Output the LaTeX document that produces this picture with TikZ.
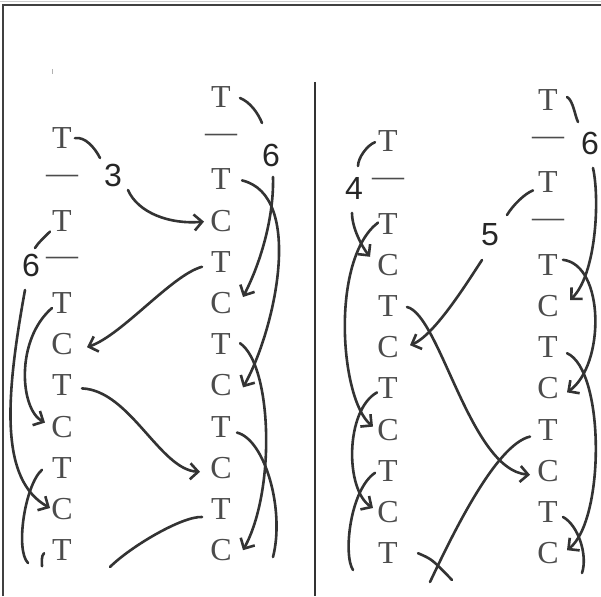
\documentclass[tikz,border=0pt]{standalone}
\usepackage{fontspec}
\setmainfont{Liberation Serif}
\newfontfamily\handfont{Liberation Sans}
\usetikzlibrary{arrows.meta, calc}
\tikzstyle{stroke} = [line width=2.6pt, draw=black!80, line cap=round]
\tikzstyle{arr} = [stroke, -{Straight Barb[length=8pt, width=16pt]}]
\tikzstyle{letter} = [inner sep=1pt, text=black!70, font=\fontsize{32}{32}\selectfont]
\tikzstyle{digit} = [inner sep=1pt, text=black!85, font=\handfont\fontsize{32}{32}\selectfont]

\begin{document}
\begin{tikzpicture}[x=1pt, y=-1pt]
\useasboundingbox (0,0) rectangle (601,596);

% Frame and divider
\draw[black!20] (0,1) -- (601,1);
\draw[line width=2pt, black!75] (3,596) -- (3,5) -- (601,5);
\draw[line width=2.5pt, black!80] (315,82) -- (315,596);
\draw[gray!60] (52,69) -- (52,74);

% Letter columns (rows 41.2 apart)
\foreach \r/\t in {1/T, 2/\textemdash, 3/T, 4/\textemdash, 5/T, 6/C, 7/T, 8/C, 9/T, 10/C, 11/T} {
    \node[letter] (a\r) at (62,{97+41.2*\r}) {\t};
}
\foreach \r/\t in {0/T, 1/\textemdash, 2/T, 3/C, 4/T, 5/C, 6/T, 7/C, 8/T, 9/C, 10/T, 11/C} {
    \node[letter] (b\r) at (221,{97+41.2*\r}) {\t};
}
\foreach \r/\t in {1/T, 2/\textemdash, 3/T, 4/C, 5/T, 6/C, 7/T, 8/C, 9/T, 10/C, 11/T} {
    \node[letter] (c\r) at (388,{100+41.2*\r}) {\t};
}
\foreach \r/\t in {0/T, 1/\textemdash, 2/T, 3/\textemdash, 4/T, 5/C, 6/T, 7/C, 8/T, 9/C, 10/T, 11/C} {
    \node[letter] (d\r) at (548,{100+41.2*\r}) {\t};
}

% Handwritten counts
\node[digit] (n3) at (113,175) {3};
\node[digit] (n6a) at (31,265) {6};
\node[digit] (n6b) at (271,155) {6};
\node[digit] (n4) at (354,188) {4};
\node[digit] (n5) at (490,235) {5};
\node[digit] (n6c) at (590,143) {6};

% Free ends
\coordinate (e1) at (273,557);
\coordinate (e2) at (110,567);
\coordinate (e3) at (28,563);
\coordinate (e4) at (353,570);
\coordinate (e5) at (430,582);
\coordinate (e6) at (452,580);
\coordinate (e7) at (582,573);

% Left panel
\draw[stroke] ($(a1)+(13,0)$) .. controls +(10,-2) and +(-5,-10) .. ($(n3)+(-13,-17)$);
\draw[arr] ($(n3)+(15,15)$) .. controls +(10,23) and +(-34,3) .. ($(b3)+(-17,1)$);
\draw[stroke] ($(b0)+(19,1)$) .. controls +(10,4) and +(-4,-10) .. ($(n6b)+(-9,-32)$);
\draw[arr] ($(n6b)+(2,22)$) .. controls +(1,38) and +(19,-37) .. ($(b5)+(22,-6)$);
\draw[arr] ($(b2)+(21,1)$) .. controls +(63,15) and +(32,-57) .. ($(b7)+(22,2)$);
\draw[arr] ($(b6)+(19,-1)$) .. controls +(32,22) and +(33,-60) .. ($(b11)+(22,0)$);
\draw[stroke] ($(b8)+(16,6)$) .. controls +(28,7) and +(12,-47) .. (e1);
\draw[arr] ($(b4)+(-19,5)$) .. controls +(-30,8) and +(35,-12) .. ($(a6)+(25,3)$);
\draw[arr] ($(a7)+(20,3)$) .. controls +(48,2) and +(-40,-2) .. ($(b9)+(-21,4)$);
\draw[stroke] ($(b10)+(-19,8)$) .. controls +(-20,-1) and +(20,-20) .. (e2);
\draw[stroke] ($(a3)+(-12,11)$) .. controls +(-6,6) and +(3,-5) .. ($(n6a)+(4,-17)$);
\draw[arr] ($(n6a)+(-6,25)$) .. controls +(-20,110) and +(-50,-28) .. ($(a10)+(-12,-1)$);
\draw[arr] ($(a5)+(-10,5)$) .. controls +(-37,32) and +(-25,-13) .. ($(a8)+(-17,-4)$);
\draw[stroke] ($(a9)+(-20,2)$) .. controls +(-17,15) and +(-13,-13) .. (e3);
\draw[stroke] ($(a11)+(-18,3)$) .. controls +(-3,3) and +(0,-4) .. ($(a11)+(-20,16)$);

% Right panel
\draw[stroke] ($(c1)+(-13,1)$) .. controls +(-8,3) and +(0,-8) .. ($(n4)+(4,-22)$);
\draw[arr] ($(n4)+(-2,25)$) .. controls +(0,15) and +(-8,-10) .. ($(c4)+(-18,-8)$);
\draw[arr] ($(c3)+(-10,-1)$) .. controls +(-48,37) and +(-33,-27) .. ($(c8)+(-15,-3)$);
\draw[arr] ($(c7)+(-11,4)$) .. controls +(-32,18) and +(-28,-18) .. ($(c10)+(-15,-4)$);
\draw[stroke] ($(c9)+(-13,2)$) .. controls +(-25,17) and +(-10,-15) .. (e4);
\draw[arr] ($(c5)+(19,1)$) .. controls +(33,8) and +(-60,-5) .. ($(d9)+(-18,4)$);
\draw[stroke] ($(d2)+(-15,8)$) .. controls +(-8,3) and +(6,-10) .. ($(n5)+(17,-20)$);
\draw[arr] ($(n5)+(-8,25)$) .. controls +(-12,18) and +(25,-10) .. ($(c6)+(22,-2)$);
\draw[stroke] ($(d8)+(-18,7)$) .. controls +(-35,8) and +(20,-42) .. (e5);
\draw[stroke] ($(c11)+(30,0)$) .. controls +(14,6) .. (e6);
\draw[stroke] ($(d0)+(19,-3)$) .. controls +(6,3) and +(-3,-6) .. ($(n6c)+(-12,-21)$);
\draw[arr] ($(n6c)+(3,25)$) .. controls +(7,32) and +(26,-25) .. ($(d5)+(22,-6)$);
\draw[arr] ($(d4)+(15,-5)$) .. controls +(42,5) and +(38,-27) .. ($(d7)+(19,4)$);
\draw[arr] ($(d6)+(19,6)$) .. controls +(38,17) and +(38,-30) .. ($(d11)+(19,-3)$);
\draw[stroke] ($(d10)+(15,5)$) .. controls +(15,8) and +(6,-18) .. (e7);

\end{tikzpicture}
\end{document}
